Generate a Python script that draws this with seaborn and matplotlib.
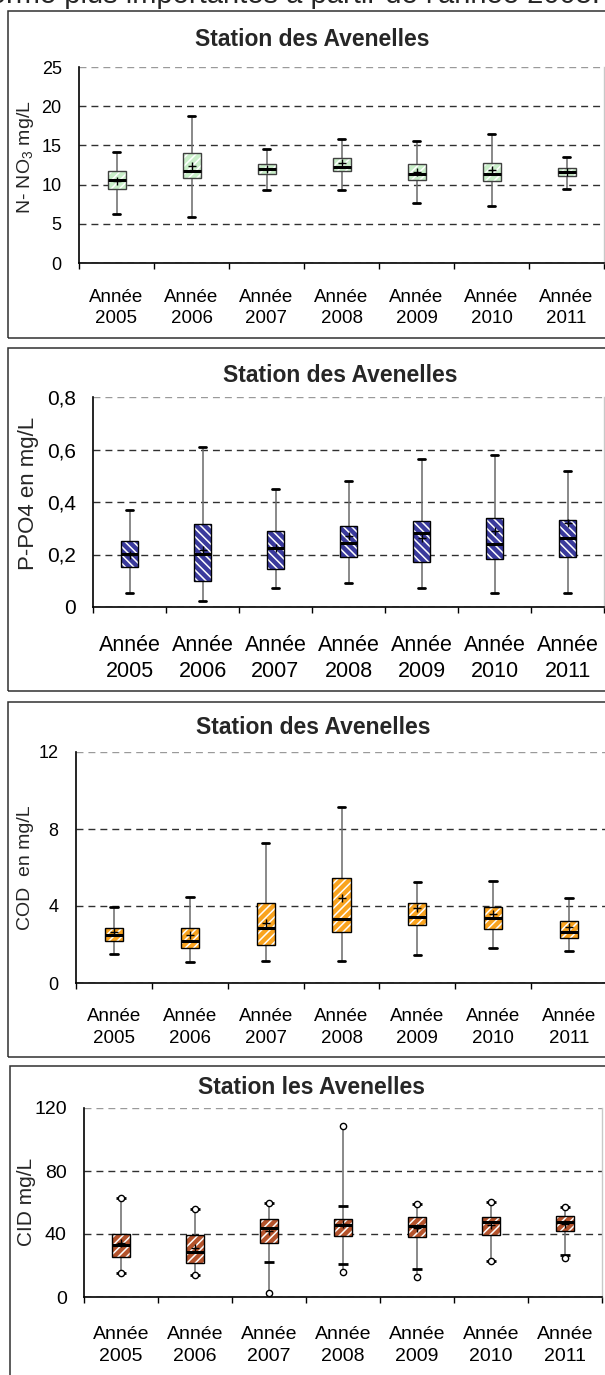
import numpy as np
import pandas as pd
import matplotlib
matplotlib.use("Agg")
import matplotlib.pyplot as plt
from matplotlib.patches import PathPatch, Rectangle
import seaborn as sns

# === données ===
years = ["Année\n2005", "Année\n2006", "Année\n2007", "Année\n2008",
         "Année\n2009", "Année\n2010", "Année\n2011"]

# N-NO3 (mg/L)
no3_low = [6.2, 5.9, 9.3, 9.3, 7.6, 7.3, 9.4]
no3_q1 = [9.5, 10.8, 11.3, 11.7, 10.6, 10.4, 11.1]
no3_med = [10.6, 11.7, 12.0, 12.3, 11.3, 11.3, 11.6]
no3_q3 = [11.7, 14.0, 12.6, 13.4, 12.6, 12.7, 12.1]
no3_high = [14.2, 18.8, 14.5, 15.8, 15.5, 16.4, 13.5]
no3_mean = [10.5, 12.4, 12.0, 12.7, 11.6, 11.8, 11.6]

# P-PO4 (mg/L)
po4_low = [0.052, 0.023, 0.073, 0.092, 0.073, 0.052, 0.052]
po4_q1 = [0.153, 0.100, 0.143, 0.192, 0.173, 0.183, 0.192]
po4_med = [0.202, 0.202, 0.225, 0.244, 0.283, 0.240, 0.262]
po4_q3 = [0.250, 0.316, 0.290, 0.307, 0.329, 0.340, 0.332]
po4_high = [0.370, 0.610, 0.450, 0.480, 0.565, 0.580, 0.520]
po4_mean = [0.200, 0.216, 0.225, 0.270, 0.264, 0.290, 0.320]

# COD (mg/L)
cod_low = [1.50, 1.08, 1.12, 1.12, 1.46, 1.84, 1.64]
cod_q1 = [2.19, 1.82, 1.96, 2.67, 3.00, 2.79, 2.32]
cod_med = [2.48, 2.20, 2.87, 3.34, 3.43, 3.37, 2.67]
cod_q3 = [2.87, 2.87, 4.17, 5.46, 4.17, 3.96, 3.22]
cod_high = [3.96, 4.47, 7.28, 9.12, 5.23, 5.28, 4.44]
cod_mean = [2.67, 2.50, 3.13, 4.40, 3.90, 3.58, 2.91]

# CID (mg/L) : min / P10 / Q1 / médiane / Q3 / P90 / max
cid_min = [15.5, 14.0, 2.5, 16.1, 13.0, 22.7, 24.6]
cid_p10 = [15.5, 14.0, 22.3, 21.2, 17.8, 22.7, 26.5]
cid_q1 = [25.7, 21.9, 34.6, 38.6, 37.8, 39.1, 41.6]
cid_med = [33.3, 28.7, 43.5, 45.9, 45.2, 47.8, 47.6]
cid_q3 = [39.9, 39.5, 49.7, 49.7, 50.7, 51.0, 51.4]
cid_p90 = [62.8, 55.6, 59.7, 58.0, 59.2, 60.1, 57.3]
cid_max = [62.8, 55.6, 59.7, 108.3, 59.2, 60.1, 57.3]
cid_mean = [34.4, 30.8, 42.0, 46.5, 44.0, 45.6, 46.3]

no3_ticks = [0, 5, 10, 15, 20, 25]
no3_ticklabels = ["0", "5", "10", "15", "20", "25"]
po4_ticks = [0, 0.2, 0.4, 0.6, 0.8]
po4_ticklabels = ["0", "0,2", "0,4", "0,6", "0,8"]
cod_ticks = [0, 4, 8, 12]
cod_ticklabels = ["0", "4", "8", "12"]
cid_ticks = [0, 40, 80, 120]
cid_ticklabels = ["0", "40", "80", "120"]

# === style ===
sns.set_theme(style="white")
plt.rcParams["font.family"] = ["Liberation Sans", "DejaVu Sans"]
plt.rcParams["mathtext.fontset"] = "custom"
plt.rcParams["mathtext.rm"] = "Liberation Sans"
plt.rcParams["hatch.linewidth"] = 1.1

W, H = 605, 1375
fig = plt.figure(figsize=(W / 100, H / 100), dpi=100)
fig.patch.set_facecolor("white")


def rect(l, t, r, b):
    return [l / W, 1 - b / H, (r - l) / W, (b - t) / H]


def long_table(low, q1, med, q3, high):
    rows = []
    for i, yr in enumerate(years):
        for v in (low[i], q1[i], med[i], q3[i], high[i]):
            rows.append((yr, v))
    return pd.DataFrame(rows, columns=["annee", "valeur"])


def draw_panel(ax, low, q1, med, q3, high, mean, color, hatch, edge,
               ticks, ticklabels, fs_y, fs_x, xpad, xls, caps=True):
    df = long_table(low, q1, med, q3, high)
    sns.boxplot(data=df, x="annee", y="valeur", order=years, whis=(0, 100),
                width=0.24, color=color, saturation=1, linecolor=edge,
                linewidth=1, fill=True, showfliers=False, showcaps=caps,
                capwidths=0.1,
                whiskerprops=dict(color="#6a6a6a", linewidth=1.1),
                capprops=dict(color="black", linewidth=2),
                medianprops=dict(color="black", linewidth=2.2),
                ax=ax)
    # hachures blanches sur les boîtes + contour
    for box in list(ax.patches):
        box.set_edgecolor("white")
        box.set_linewidth(0)
        box.set_hatch(hatch)
        ax.add_patch(PathPatch(box.get_path(), transform=ax.transData,
                               fill=False, edgecolor=edge, linewidth=1,
                               zorder=box.get_zorder() + 0.05))
    # moyennes
    sns.pointplot(x=years, y=mean, order=years, color="black", marker="+",
                  linestyle="none", markersize=6, markeredgewidth=1,
                  errorbar=None, ax=ax, zorder=6)

    ax.set_xlim(-0.5, 6.5)
    ax.set_ylim(ticks[0], ticks[-1])
    ax.set_yticks(ticks)
    ax.set_yticklabels(ticklabels)
    ax.set_xlabel("")
    ax.set_ylabel("")
    ax.set_xticks(np.arange(-0.5, 7, 1), minor=True)
    ax.tick_params(axis="x", which="major", length=0, pad=xpad,
                   labelsize=fs_x, colors="black")
    ax.tick_params(axis="x", which="minor", length=4.5, width=1,
                   color="black", direction="out", bottom=True)
    ax.tick_params(axis="y", length=0, pad=12.5, labelsize=fs_y,
                   colors="black")
    for lbl in ax.get_xticklabels():
        lbl.set_linespacing(xls)
    ax.yaxis.grid(True, linestyle=(0, (5, 3.6)), color="#303030",
                  linewidth=1)
    ax.xaxis.grid(False)
    ax.set_axisbelow(True)
    ax.get_ygridlines()[-1].set_color("#9a9a9a")
    ax.spines["top"].set_visible(False)
    ax.spines["right"].set_color("#c8c8c8")
    ax.spines["right"].set_linewidth(1)
    for s in ("left", "bottom"):
        ax.spines[s].set_color("black")
        ax.spines[s].set_linewidth(1.2)


# cadres des quatre graphiques
for (l, t, b) in [(8, 11, 338), (8, 348, 691), (8, 702, 1057), (10, 1066, 1385)]:
    fig.add_artist(Rectangle((l / W, 1 - b / H), (640 - l) / W, (b - t) / H,
                             transform=fig.transFigure, fill=False,
                             edgecolor="#303030", linewidth=1.1))

# texte coupé en haut de page
fig.text(600 / W, 1 - 3 / H,
         "de forme plus importantes à partir de l'année 2005.",
         ha="right", va="baseline", fontsize=21)

# --- N-NO3 ---
ax1 = fig.add_axes(rect(79, 67, 604, 263))
draw_panel(ax1, no3_low, no3_q1, no3_med, no3_q3, no3_high, no3_mean,
           "#c9efc9", "////", "#404040", no3_ticks, no3_ticklabels,
           13, 13.5, 19, 1.28)
fig.text(312 / W, 1 - 40 / H, "Station des Avenelles", ha="center",
         va="center", fontsize=16.5, fontweight="bold")
fig.text(25 / W, 1 - 157 / H, r"N- NO$_\mathregular{3}$ mg/L", rotation=90,
         ha="center", va="center", fontsize=14)

# --- P-PO4 ---
ax2 = fig.add_axes(rect(93, 397, 604, 607))
draw_panel(ax2, po4_low, po4_q1, po4_med, po4_q3, po4_high, po4_mean,
           "#3a3a9c", "\\\\\\\\", "black", po4_ticks, po4_ticklabels,
           15, 15.5, 20, 1.32)
fig.text(340 / W, 1 - 375 / H, "Station des Avenelles", ha="center",
         va="center", fontsize=16.5, fontweight="bold")
fig.text(29 / W, 1 - 493 / H, "P-PO4 en mg/L", rotation=90,
         ha="center", va="center", fontsize=16)

# --- COD ---
ax3 = fig.add_axes(rect(76, 752, 607, 983))
draw_panel(ax3, cod_low, cod_q1, cod_med, cod_q3, cod_high, cod_mean,
           "#f9a31f", "////", "black", cod_ticks, cod_ticklabels,
           13, 13.5, 18, 1.35)
fig.text(313 / W, 1 - 727 / H, "Station des Avenelles", ha="center",
         va="center", fontsize=16.5, fontweight="bold")
fig.text(25 / W, 1 - 868 / H, "COD  en mg/L", rotation=90,
         ha="center", va="center", fontsize=14)

# --- CID ---
ax4 = fig.add_axes(rect(84, 1108, 602, 1297))
draw_panel(ax4, cid_min, cid_q1, cid_med, cid_q3, cid_max, cid_mean,
           "#b4532c", "////", "black", cid_ticks, cid_ticklabels,
           14, 14, 21, 1.4, caps=False)
# moustaches P10 / P90 et valeurs extrêmes
for vals in (cid_p10, cid_p90):
    sns.pointplot(x=years, y=vals, order=years, color="black", marker="_",
                  linestyle="none", markersize=7, markeredgewidth=2,
                  errorbar=None, ax=ax4, zorder=6)
for vals in (cid_min, cid_max):
    sns.pointplot(x=years, y=vals, order=years, color="black", marker="o",
                  linestyle="none", markersize=4.5, markeredgewidth=1,
                  markerfacecolor="white", markeredgecolor="black",
                  errorbar=None, ax=ax4, zorder=7)
ax4.set_xlim(-0.5, 6.5)
ax4.set_ylim(0, 120)
ax4.set_xlabel("")
ax4.set_ylabel("")
fig.text(312 / W, 1 - 1088 / H, "Station les Avenelles", ha="center",
         va="center", fontsize=16.5, fontweight="bold")
fig.text(27 / W, 1 - 1202 / H, "CID mg/L", rotation=90,
         ha="center", va="center", fontsize=15)

fig.savefig("out.png", dpi=100)
plt.close(fig)
